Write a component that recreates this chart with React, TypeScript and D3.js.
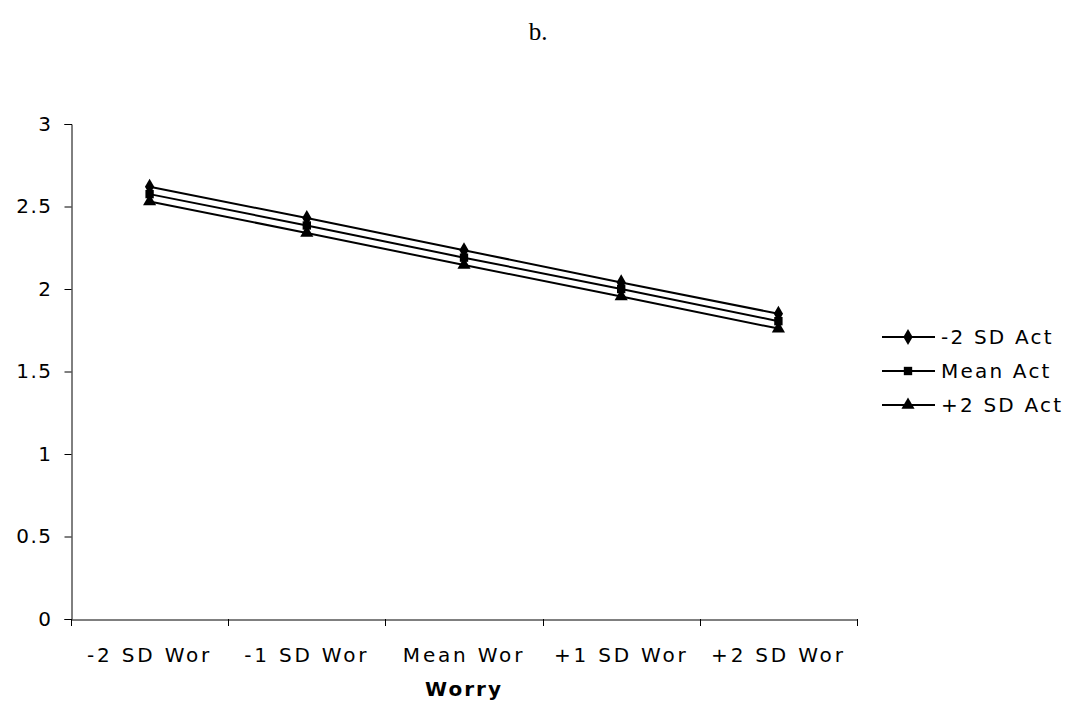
import React, { useEffect, useRef } from "react";
import * as d3 from "d3";

const categories = ["-2 SD Wor", "-1 SD Wor", "Mean Wor", "+1 SD Wor", "+2 SD Wor"];
const lowAct = [2.62, 2.43, 2.235, 2.04, 1.85];
const meanAct = [2.575, 2.385, 2.19, 2.0, 1.805];
const highAct = [2.53, 2.34, 2.145, 1.955, 1.76];
const seriesNames = ["-2 SD Act", "Mean Act", "+2 SD Act"];
const yTicks = [0, 0.5, 1, 1.5, 2, 2.5, 3];

const App = () => {
  const svgRef = useRef<SVGSVGElement>(null);

  useEffect(() => {
    const width = 1078;
    const height = 709;
    const left = 71;
    const right = 857;
    const top = 124;
    const bottom = 619;
    const font = "DejaVu Sans, Verdana, sans-serif";
    const fs = 20;

    const svg = d3.select(svgRef.current);
    svg.selectAll("*").remove();
    svg.attr("width", width).attr("height", height);

    const x = d3.scaleBand().domain(categories).range([left, right]).padding(0);
    const y = d3.scaleLinear().domain([0, 3]).range([bottom, top]);

    // title
    svg
      .append("text")
      .attr("x", 538)
      .attr("y", 40)
      .attr("text-anchor", "middle")
      .attr("font-family", "Liberation Serif, Times New Roman, serif")
      .attr("font-size", 25)
      .text("b.");

    // y axis
    const yAxis = svg
      .append("g")
      .attr("transform", `translate(${left + 0.5},0)`)
      .call(d3.axisLeft(y).tickValues(yTicks).tickSize(7).tickPadding(12).tickFormat(d3.format("")));
    yAxis.select(".domain").attr("stroke", "#000");
    yAxis
      .selectAll("text")
      .attr("font-family", font)
      .attr("font-size", fs)
      .attr("letter-spacing", 1.5)
      .attr("fill", "#000");

    // x axis
    const xAxis = svg
      .append("g")
      .attr("transform", `translate(0,${bottom + 0.5})`)
      .call(d3.axisBottom(x).tickSize(0).tickSizeOuter(0).tickPadding(28));
    xAxis
      .selectAll("text")
      .attr("font-family", font)
      .attr("font-size", fs)
      .attr("letter-spacing", 2.8)
      .attr("fill", "#000");
    const edges = [...categories.map((c) => x(c)!), right];
    svg
      .append("g")
      .selectAll("line")
      .data(edges)
      .join("line")
      .attr("x1", (d) => Math.round(d) + 0.5)
      .attr("x2", (d) => Math.round(d) + 0.5)
      .attr("y1", bottom)
      .attr("y2", bottom + 7)
      .attr("stroke", "#000");

    svg
      .append("text")
      .attr("x", (left + right) / 2)
      .attr("y", 696)
      .attr("text-anchor", "middle")
      .attr("font-family", font)
      .attr("font-size", fs)
      .attr("letter-spacing", 2)
      .attr("font-weight", "bold")
      .text("Worry");

    const cx = (c: string) => x(c)! + x.bandwidth() / 2;
    const series = [lowAct, meanAct, highAct];
    const symbols = [
      d3.symbol().type(d3.symbolDiamond).size(75),
      d3.symbol().type(d3.symbolSquare).size(70),
      d3.symbol().type(d3.symbolTriangle).size(75),
    ];
    const line = d3
      .line<number>()
      .x((_, i) => cx(categories[i]))
      .y((d) => y(d));

    series.forEach((vals, s) => {
      svg
        .append("path")
        .datum(vals)
        .attr("d", line)
        .attr("fill", "none")
        .attr("stroke", "#000")
        .attr("stroke-width", 2);
      svg
        .append("g")
        .selectAll("path")
        .data(vals)
        .join("path")
        .attr("transform", (d, i) => `translate(${cx(categories[i])},${y(d)})`)
        .attr("d", symbols[s]()!)
        .attr("fill", "#000");
    });

    // legend
    const legend = svg.append("g");
    seriesNames.forEach((name, i) => {
      const ly = 337 + i * 34;
      legend
        .append("line")
        .attr("x1", 882)
        .attr("x2", 935)
        .attr("y1", ly)
        .attr("y2", ly)
        .attr("stroke", "#000")
        .attr("stroke-width", 2);
      legend
        .append("path")
        .attr("transform", `translate(908,${ly})`)
        .attr("d", symbols[i]()!)
        .attr("fill", "#000");
      legend
        .append("text")
        .attr("x", 941)
        .attr("y", ly)
        .attr("dy", "0.35em")
        .attr("font-family", font)
        .attr("font-size", fs)
        .attr("letter-spacing", 2.2)
        .text(name);
    });
  }, []);

  return <svg ref={svgRef} style={{ position: "absolute", left: 0, top: 0 }}></svg>;
};

export default App;
